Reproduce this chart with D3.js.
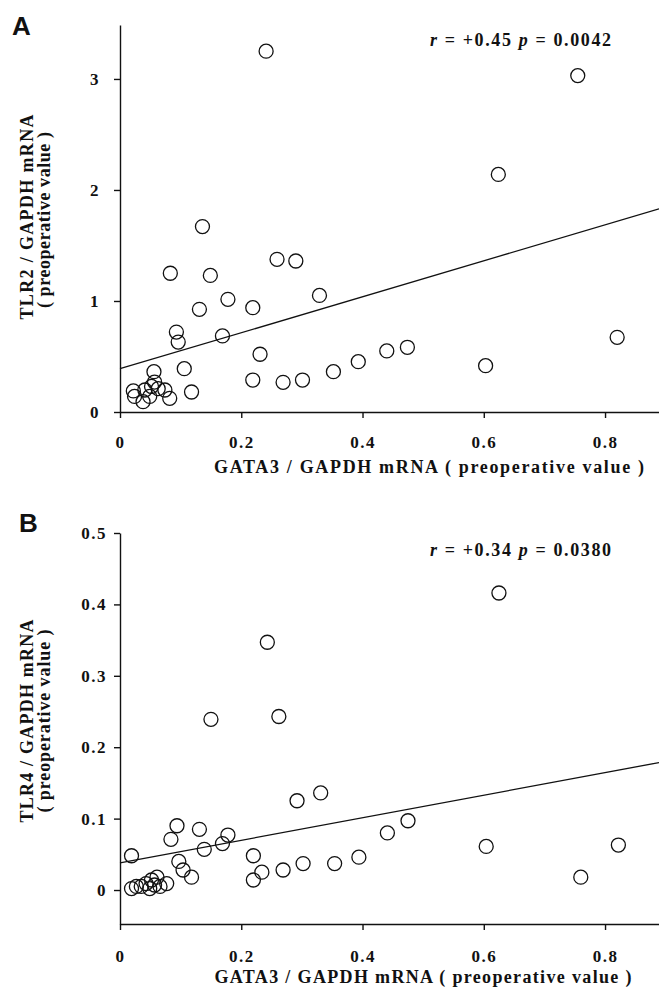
<!DOCTYPE html>
<html>
<head>
<meta charset="utf-8">
<script src="https://cdn.jsdelivr.net/npm/d3@7"></script>
<style>
  body { margin: 0; background: #fff; }
  svg text { font-family: "Liberation Serif", "DejaVu Serif", serif; font-weight: bold; fill: #111; }
  .axis path, .axis line { stroke: #111; stroke-width: 1.4; }
</style>
</head>
<body>
<div class="chart"></div>
<script>
// GATA3 / GAPDH (x) vs TLR2 / GAPDH (y), panel A
var gataA = [0.241, 0.755, 0.624, 0.136, 0.259, 0.290, 0.083, 0.149, 0.329, 0.178,
             0.219, 0.131, 0.093, 0.096, 0.169, 0.231, 0.106, 0.056, 0.219, 0.269,
             0.301, 0.118, 0.352, 0.393, 0.440, 0.474, 0.603, 0.820,
             0.022, 0.024, 0.038, 0.041, 0.052, 0.057, 0.063, 0.074, 0.082, 0.049];
var tlr2 = [3.25, 3.03, 2.14, 1.67, 1.375, 1.36, 1.25, 1.23, 1.05, 1.015,
            0.94, 0.925, 0.72, 0.63, 0.685, 0.52, 0.39, 0.363, 0.288, 0.267,
            0.288, 0.18, 0.363, 0.453, 0.55, 0.583, 0.417, 0.673,
            0.19, 0.14, 0.093, 0.198, 0.23, 0.27, 0.21, 0.198, 0.123, 0.14];

// GATA3 / GAPDH (x) vs TLR4 / GAPDH (y), panel B
var gataB = [0.243, 0.150, 0.262, 0.625, 0.292, 0.331, 0.094, 0.131, 0.178, 0.084,
             0.169, 0.139, 0.019, 0.220, 0.097, 0.104, 0.302, 0.269, 0.234, 0.220,
             0.118, 0.354, 0.394, 0.441, 0.475, 0.604, 0.760, 0.822,
             0.019, 0.027, 0.035, 0.043, 0.052, 0.057, 0.066, 0.077, 0.049, 0.061];
var tlr4 = [0.347, 0.239, 0.243, 0.416, 0.125, 0.136, 0.090, 0.085, 0.077, 0.071,
            0.065, 0.057, 0.048, 0.048, 0.040, 0.028, 0.037, 0.028, 0.025, 0.014,
            0.018, 0.037, 0.046, 0.080, 0.097, 0.061, 0.018, 0.063,
            0.002, 0.005, 0.005, 0.009, 0.014, 0.007, 0.005, 0.009, 0.002, 0.018];

// regression fits: [intercept, slope]
var fitA = [0.39, 1.62];
var fitB = [0.038, 0.158];

var xTicks = [0, 0.2, 0.4, 0.6, 0.8];
var yTicksA = [0, 1, 2, 3];
var yTicksB = [0, 0.1, 0.2, 0.3, 0.4, 0.5];

var statsA = ["+0.45", "0.0042"];
var statsB = ["+0.34", "0.0380"];

var W = 659, H = 988;

var svg = d3.select(".chart").append("svg")
    .attr("width", W)
    .attr("height", H);

function drawPanel(p) {
  var g = svg.append("g");

  var x = d3.scaleLinear().domain([0, 0.889]).range([120, 659]);
  var y = d3.scaleLinear().domain(p.yDomain).range(p.yRange);

  var xAxis = d3.axisBottom(x)
      .tickValues(xTicks)
      .tickSize(6)
      .tickSizeOuter(0)
      .tickPadding(p.xPad)
      .tickFormat(function(d){ return d === 0 ? "0" : d3.format(".1f")(d); });

  var yAxis = d3.axisLeft(y)
      .tickValues(p.yTicks)
      .tickSize(6)
      .tickSizeOuter(0)
      .tickPadding(p.yPad)
      .tickFormat(p.yFmt);

  g.append("g")
      .attr("class", "axis")
      .attr("transform", "translate(0," + p.yRange[0] + ")")
      .call(xAxis)
      .selectAll("text")
      .attr("font-size", 17)
      .style("letter-spacing", "1.5px");

  g.append("g")
      .attr("class", "axis")
      .attr("transform", "translate(120,0)")
      .call(yAxis)
      .selectAll("text")
      .attr("font-size", 17)
      .style("letter-spacing", "1.5px");

  g.selectAll(".axis .domain").attr("fill", "none");

  // regression line
  var x0 = x.domain()[0], x1 = x.domain()[1];
  g.append("line")
      .attr("x1", x(x0))
      .attr("y1", y(p.fit[0] + p.fit[1] * x0))
      .attr("x2", x(x1))
      .attr("y2", y(p.fit[0] + p.fit[1] * x1))
      .attr("stroke", "#111")
      .attr("stroke-width", 1.3);

  g.selectAll(".point")
      .data(p.xs)
      .enter().append("circle")
      .attr("class", "point")
      .attr("cx", function(d){ return x(d); })
      .attr("cy", function(d, i){ return y(p.ys[i]); })
      .attr("r", 7)
      .attr("fill", "none")
      .attr("stroke", "#111")
      .attr("stroke-width", 1.3);

  // r / p annotation
  var t = g.append("text")
      .attr("x", 430)
      .attr("y", p.statY)
      .attr("font-size", 18)
      .attr("textLength", 181)
      .attr("lengthAdjust", "spacing");
  t.append("tspan").attr("font-style", "italic").text("r");
  t.append("tspan").text(" = " + p.stats[0] + "  ");
  t.append("tspan").attr("font-style", "italic").text("p");
  t.append("tspan").text(" = " + p.stats[1]);

  // panel letter
  g.append("text")
      .attr("x", p.letterX)
      .attr("y", p.letterY)
      .style("font-family", "'Liberation Sans', Arial, sans-serif")
      .attr("font-size", 26)
      .text(p.letter);

  // axis titles
  g.append("text")
      .attr("text-anchor", "middle")
      .attr("x", p.xLabel[0])
      .attr("y", p.xLabel[1])
      .attr("font-size", 18)
      .attr("textLength", p.xLabel[2])
      .attr("lengthAdjust", "spacing")
      .text("GATA3 / GAPDH  mRNA ( preoperative value )");

  g.append("text")
      .attr("text-anchor", "middle")
      .attr("transform", "translate(33," + p.yLabel1[0] + ")rotate(-90)")
      .attr("font-size", 18)
      .attr("textLength", p.yLabel1[1])
      .attr("lengthAdjust", "spacing")
      .text(p.yTitle);

  g.append("text")
      .attr("text-anchor", "middle")
      .attr("transform", "translate(50," + p.yLabel2[0] + ")rotate(-90)")
      .attr("font-size", 18)
      .attr("textLength", p.yLabel2[1])
      .attr("lengthAdjust", "spacing")
      .text("( preoperative value )");
}

drawPanel({
  xs: gataA, ys: tlr2, fit: fitA, stats: statsA,
  yDomain: [0, 3.486], yRange: [412, 25], yTicks: yTicksA,
  yFmt: d3.format("d"), yPad: 14, xPad: 18,
  statY: 46, letter: "A", letterX: 12, letterY: 35,
  xLabel: [429, 473, 430],
  yTitle: "TLR2 / GAPDH mRNA", yLabel1: [217, 205], yLabel2: [220, 176]
});

drawPanel({
  xs: gataB, ys: tlr4, fit: fitB, stats: statsB,
  yDomain: [-0.0476, 0.5], yRange: [924, 533], yTicks: yTicksB,
  yFmt: function(d){ return d === 0 ? "0" : d3.format(".1f")(d); }, yPad: 7, xPad: 20,
  statY: 556, letter: "B", letterX: 19, letterY: 532,
  xLabel: [423, 983, 417],
  yTitle: "TLR4 / GAPDH mRNA", yLabel1: [721, 203], yLabel2: [721, 183]
});
</script>
</body>
</html>
